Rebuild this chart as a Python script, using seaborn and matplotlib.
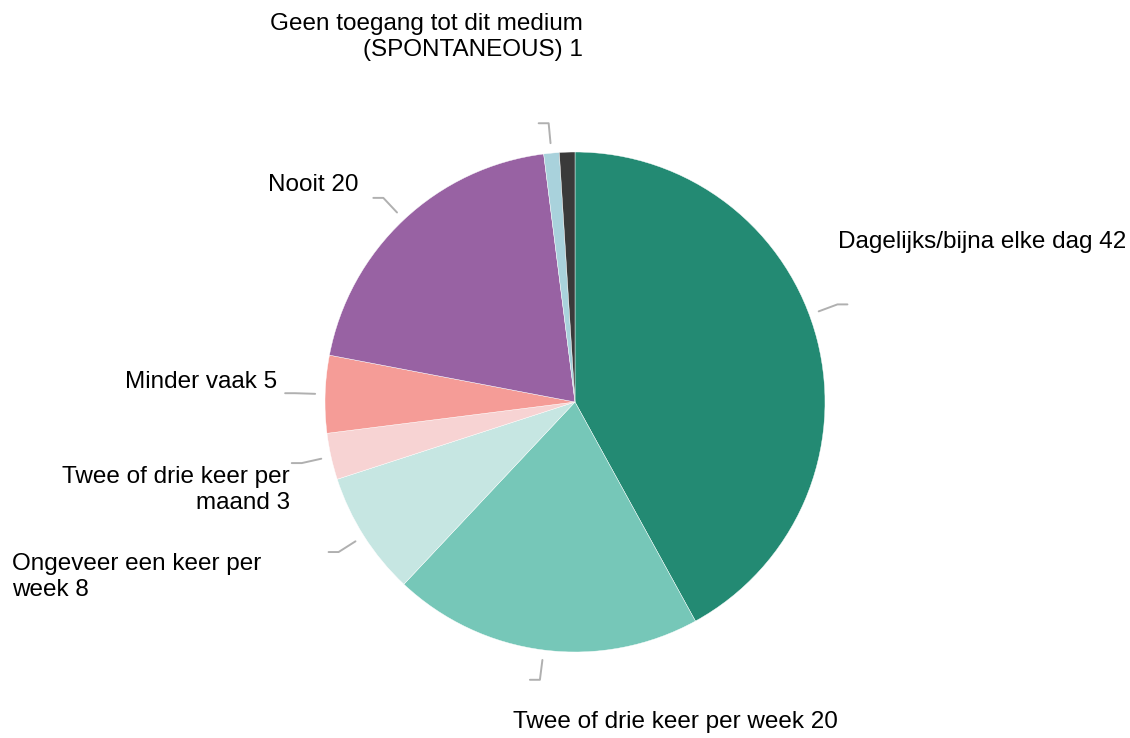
import numpy as np
import matplotlib
matplotlib.use("Agg")
import matplotlib.pyplot as plt
import seaborn as sns

sns.set_theme(style="white")
plt.rcParams['font.family'] = ['Liberation Sans', 'DejaVu Sans']

categories = [
    "Dagelijks/bijna elke dag",
    "Twee of drie keer per week",
    "Ongeveer een keer per week",
    "Twee of drie keer per maand",
    "Minder vaak",
    "Nooit",
    "Geen toegang tot dit medium (SPONTANEOUS)",
    "Overig",
]
values = [42, 20, 8, 3, 5, 20, 1, 1]
label_texts = [
    "Dagelijks/bijna elke dag 42",
    "Twee of drie keer per week 20",
    "Ongeveer een keer per\nweek 8",
    "Twee of drie keer per\nmaand 3",
    "Minder vaak 5",
    "Nooit 20",
    "Geen toegang tot dit medium\n(SPONTANEOUS) 1",
    None,
]
colors = ["#238a73", "#76c7b8", "#c6e6e2", "#f7d3d3", "#f59c97",
          "#9862a3", "#a9d2dc", "#3a3a3a"]

W, H = 1130, 738
cx, cy, R = 575, 402, 250

fig = plt.figure(figsize=(W / 100, H / 100), dpi=100)
ax = fig.add_axes([0, 0, 1, 1])
wedges, _ = ax.pie(values, colors=colors, startangle=90, counterclock=False,
                   radius=1.0, wedgeprops=dict(linewidth=0.3, edgecolor="white"))
ax.set_aspect("auto")
ax.set_xlim(-cx / R, (W - cx) / R)
ax.set_ylim(-(H - cy) / R, cy / R)
ax.axis("off")

def px(x, y):
    return ((x - cx) / R, (cy - y) / R)

# label anchors (pixel positions in the reference layout) and alignment
label_pos = [
    ((838, 242), "left", "center"),
    ((513, 722), "left", "center"),
    ((12, 577), "left", "center"),
    ((290, 490), "right", "center"),
    ((277, 382), "right", "center"),
    ((358, 185), "right", "center"),
    ((583, 37), "right", "center"),
    None,
]
# small angular nudges of the leader lines (degrees)
leader_shift = [6, 0, 0, 0, 0, 0, 0, 0]

for w, txt, lp, sh in zip(wedges, label_texts, label_pos, leader_shift):
    if txt is None:
        continue
    mid = np.deg2rad((w.theta1 + w.theta2) / 2 + sh)
    c, s = np.cos(mid), np.sin(mid)
    x0, y0 = 1.04 * c, 1.04 * s
    x1, y1 = 1.12 * c, 1.12 * s
    tail = 0.04 if c >= 0 else -0.04
    ax.plot([x0, x1, x1 + tail], [y0, y1, y1], color="#b0b0b0", lw=1.4,
            solid_capstyle="round")
    (lx, ly), ha, va = lp
    tx, ty = px(lx, ly)
    ax.text(tx, ty, txt, ha=ha, va=va, fontsize=17.5, color="black",
            linespacing=1.25, multialignment=ha)

fig.savefig("out.png", dpi=100)
